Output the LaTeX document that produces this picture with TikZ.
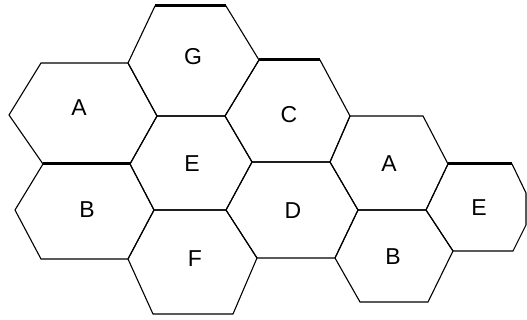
\documentclass[tikz,border=0pt]{standalone}
\usepackage{fontspec}
\setmainfont{Liberation Sans}
\begin{document}
\begin{tikzpicture}[x=1pt,y=-1pt,
  cell/.style={draw=black,line width=1.1pt,line join=miter},
  heavy/.style={draw=black,line width=3pt},
  lbl/.style={font=\fontsize{23}{23}\selectfont,inner sep=0pt}]
\useasboundingbox (0,0) rectangle (527,320);
% G
\draw[cell] (155,6)--(226,6)--(259,60)--(225,116)--(157,116)--(128,63)--cycle;
% A left
\draw[cell] (41,63)--(128,63)--(157,116)--(130,164)--(43,164)--(9,115)--cycle;
% E middle
\draw[cell] (157,116)--(225,116)--(252,162)--(226,210)--(154,210)--(130,164)--cycle;
% C
\draw[cell] (259,60)--(320,60)--(350,116)--(330,162)--(252,162)--(225,116)--cycle;
% B left
\draw[cell] (43,164)--(130,164)--(154,210)--(128,259)--(41,259)--(15,210)--cycle;
% D
\draw[cell] (252,162)--(330,162)--(358,210)--(335,258)--(257,258)--(226,210)--cycle;
% F
\draw[cell] (154,210)--(226,210)--(257,258)--(233,314)--(153,314)--(128,259)--cycle;
% A right
\draw[cell] (350,116)--(423,116)--(448,164)--(426,210)--(358,210)--(330,162)--cycle;
% B right
\draw[cell] (358,210)--(426,210)--(453,251)--(428,302)--(360,302)--(335,258)--cycle;
% E right
\draw[cell] (448,164)--(512,164)--(526,193)--(526,225)--(513,251)--(453,251)--(426,210)--cycle;
% heavy edges
\draw[heavy] (155,6)--(226,6);
\draw[heavy] (259,60)--(320,60);
\draw[heavy] (43,164)--(130,164);
\draw[heavy] (448,164)--(512,164);
% labels
\node[lbl] (g) at (193,57) {G};
\node[lbl] (a1) at (79,108) {A};
\node[lbl] (c) at (289,115) {C};
\node[lbl] (e1) at (192,164) {E};
\node[lbl] (b1) at (87,210) {B};
\node[lbl] (d) at (293,211) {D};
\node[lbl] (f) at (195,259) {F};
\node[lbl] (a2) at (389,164) {A};
\node[lbl] (b2) at (393,257) {B};
\node[lbl] (e2) at (479,208) {E};
\end{tikzpicture}
\end{document}
